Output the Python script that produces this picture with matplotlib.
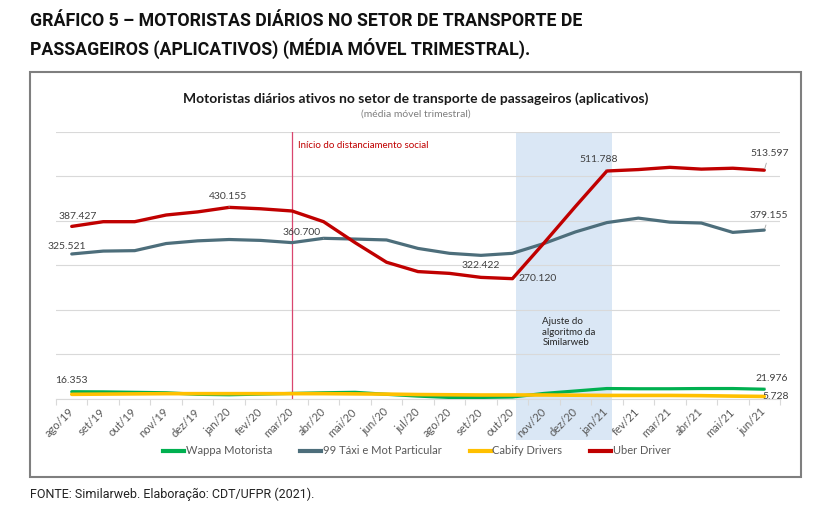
import matplotlib.pyplot as plt
from matplotlib.patches import Rectangle
from matplotlib.lines import Line2D

months = ['ago/19', 'set/19', 'out/19', 'nov/19', 'dez/19', 'jan/20', 'fev/20', 'mar/20',
          'abr/20', 'mai/20', 'jun/20', 'jul/20', 'ago/20', 'set/20', 'out/20', 'nov/20',
          'dez/20', 'jan/21', 'fev/21', 'mar/21', 'abr/21', 'mai/21', 'jun/21']

wappa = [16353, 16000, 15000, 14000, 10500, 9500, 11000, 12500, 14000, 15000, 10500, 6500,
         3500, 3500, 4500, 12500, 18000, 23500, 23000, 23000, 23500, 23500, 21976]
taxi99 = [325521, 332000, 333000, 349000, 355000, 358000, 356000, 351000, 360700, 359000, 357000,
          338000, 327000, 322422, 327000, 349000, 375000, 396000, 406000, 397000, 395000, 374000, 379155]
cabify = [10500, 11000, 11500, 12000, 12000, 12000, 12000, 12000, 12000, 11500, 11000, 10000,
          9500, 9000, 9000, 9000, 8500, 8000, 8000, 8000, 7500, 6500, 5728]
uber = [387427, 398000, 398000, 413000, 420000, 430155, 427000, 422000, 398000, 351000, 307000,
        286000, 282000, 273000, 270120, 350000, 432000, 511788, 515000, 520000, 516000, 518000, 513597]

series_names = ['Wappa Motorista', '99 Táxi e Mot Particular', 'Cabify Drivers', 'Uber Driver']
series_colors = ['#00B050', '#4D6E7B', '#FFC000', '#C00000']

W, H = 815, 507
fig = plt.figure(figsize=(W / 100, H / 100), dpi=100)

def fx(px):
    return px / W

def fy(py):
    return 1 - py / H

ax = fig.add_axes([fx(56), fy(399), fx(780) - fx(56), fy(131.7) - fy(399)])
x = list(range(len(months)))

# shaded area (algorithm change) goes below the axis into the tick labels
ax.add_patch(Rectangle((14.1, -0.155), 3.05, 1.155, transform=ax.get_xaxis_transform(),
                       facecolor='#DAE7F5', edgecolor='none', zorder=0, clip_on=False))

ax.plot(x, taxi99, color=series_colors[1], lw=2.3, solid_capstyle='round', zorder=3)
ax.plot(x, uber, color=series_colors[3], lw=2.4, solid_capstyle='round', zorder=4)
ax.plot(x, wappa, color=series_colors[0], lw=2.3, solid_capstyle='round', zorder=3)
ax.plot(x, cabify, color=series_colors[2], lw=2.6, solid_capstyle='round', zorder=3)

ax.axvline(7, color='#D9466F', lw=0.9, zorder=2)

ax.set_xlim(-0.5, 22.5)
ax.set_ylim(0, 600000)
ax.set_yticks(range(0, 600001, 100000))
ax.yaxis.grid(True, color='#D9D9D9', lw=0.8)
ax.set_axisbelow(True)
ax.tick_params(axis='y', left=False, labelleft=False)
for s in ['top', 'right', 'left']:
    ax.spines[s].set_visible(False)
ax.spines['bottom'].set_color('#D9D9D9')

ax.set_xticks(x)
ax.set_xticklabels(months, rotation=45, ha='right', va='center', rotation_mode='anchor',
                   fontsize=8, color='#595959', family='Lato')
ax.tick_params(axis='x', which='major', length=0, pad=8)
ax.set_xticks([i - 0.5 for i in range(len(months) + 1)], minor=True)
ax.tick_params(axis='x', which='minor', length=4, color='#D9D9D9', width=0.8)

lab = dict(fontsize=7.5, color='#404040', family='Lato', ha='center', va='center',
           textcoords='offset pixels', zorder=6)
lead = dict(arrowstyle='-', color='#A6A6A6', lw=0.6, shrinkA=2, shrinkB=1)

ax.annotate(f'{uber[0] / 1000:.3f}', (0, uber[0]), xytext=(6, 10), **lab)
ax.annotate(f'{taxi99[0] / 1000:.3f}', (0, taxi99[0]), xytext=(-5, 7), **lab)
ax.annotate(f'{uber[5] / 1000:.3f}', (5, uber[5]), xytext=(-1, 11), arrowprops=lead, **lab)
ax.annotate(f'{taxi99[8] / 1000:.3f}', (8, taxi99[8]), xytext=(-22, 6), arrowprops=lead, **lab)
ax.annotate(f'{taxi99[13] / 1000:.3f}', (13, taxi99[13]), xytext=(0, -10), **lab)
ax.annotate(f'{uber[14] / 1000:.3f}', (14, uber[14]), xytext=(25, 0), **lab)
ax.annotate(f'{uber[17] / 1000:.3f}', (17, uber[17]), xytext=(-8, 11), arrowprops=lead, **lab)
ax.annotate(f'{uber[22] / 1000:.3f}', (22, uber[22]), xytext=(5, 17), arrowprops=lead, **lab)
ax.annotate(f'{taxi99[22] / 1000:.3f}', (22, taxi99[22]), xytext=(5, 15), arrowprops=lead, **lab)
ax.annotate(f'{wappa[0] / 1000:.3f}', (0, wappa[0]), xytext=(0, 11), **lab)
ax.annotate(f'{wappa[22] / 1000:.3f}', (22, wappa[22]), xytext=(7, 11), arrowprops=lead, **lab)
ax.annotate(f'{cabify[22] / 1000:.3f}', (22, cabify[22]), xytext=(11, 0), **lab)

ax.text(7.2, 570000, 'Início do distanciamento social', color='#C00000', fontsize=7,
        family='Lato', va='center')
ax.text(14.95, 150000, 'Ajuste do\nalgoritmo da\nSimilarweb', color='#262626', fontsize=7,
        family='Lato', va='center', linespacing=1.2)

handles = [Line2D([], [], color=c, lw=3) for c in series_colors]
fig.legend(handles, series_names, loc='center', bbox_to_anchor=(fx(417), fy(451)), ncol=4,
           frameon=False, handlelength=1.9, handletextpad=0.15, columnspacing=2.5,
           prop={'family': 'Lato', 'size': 8}, labelcolor='#595959')

fig.text(fx(416), fy(99), 'Motoristas diários ativos no setor de transporte de passageiros (aplicativos)',
         ha='center', va='center', fontsize=10, weight='bold', family='Lato', color='#1A1A1A')
fig.text(fx(416), fy(114), '(média móvel trimestral)', ha='center', va='center', fontsize=7.5,
         family='Lato', color='#7F7F7F')

# outer frame
fig.add_artist(Rectangle((fx(30), fy(477)), fx(801) - fx(30), fy(72) - fy(477),
                         transform=fig.transFigure, fill=False, edgecolor='#7F7F7F', lw=1.5))

fig.text(fx(30), fy(21), 'GRÁFICO 5 – MOTORISTAS DIÁRIOS NO SETOR DE TRANSPORTE DE',
         ha='left', va='center', fontsize=12.8, weight='bold', family='Roboto', color='#111111')
fig.text(fx(30), fy(48), 'PASSAGEIROS (APLICATIVOS) (MÉDIA MÓVEL TRIMESTRAL).',
         ha='left', va='center', fontsize=12.8, weight='bold', family='Roboto', color='#111111')
fig.text(fx(30), fy(494), 'FONTE: Similarweb. Elaboração: CDT/UFPR (2021).',
         ha='left', va='center', fontsize=9, family='Roboto', color='#222222')

fig.savefig('out.png', dpi=100)
